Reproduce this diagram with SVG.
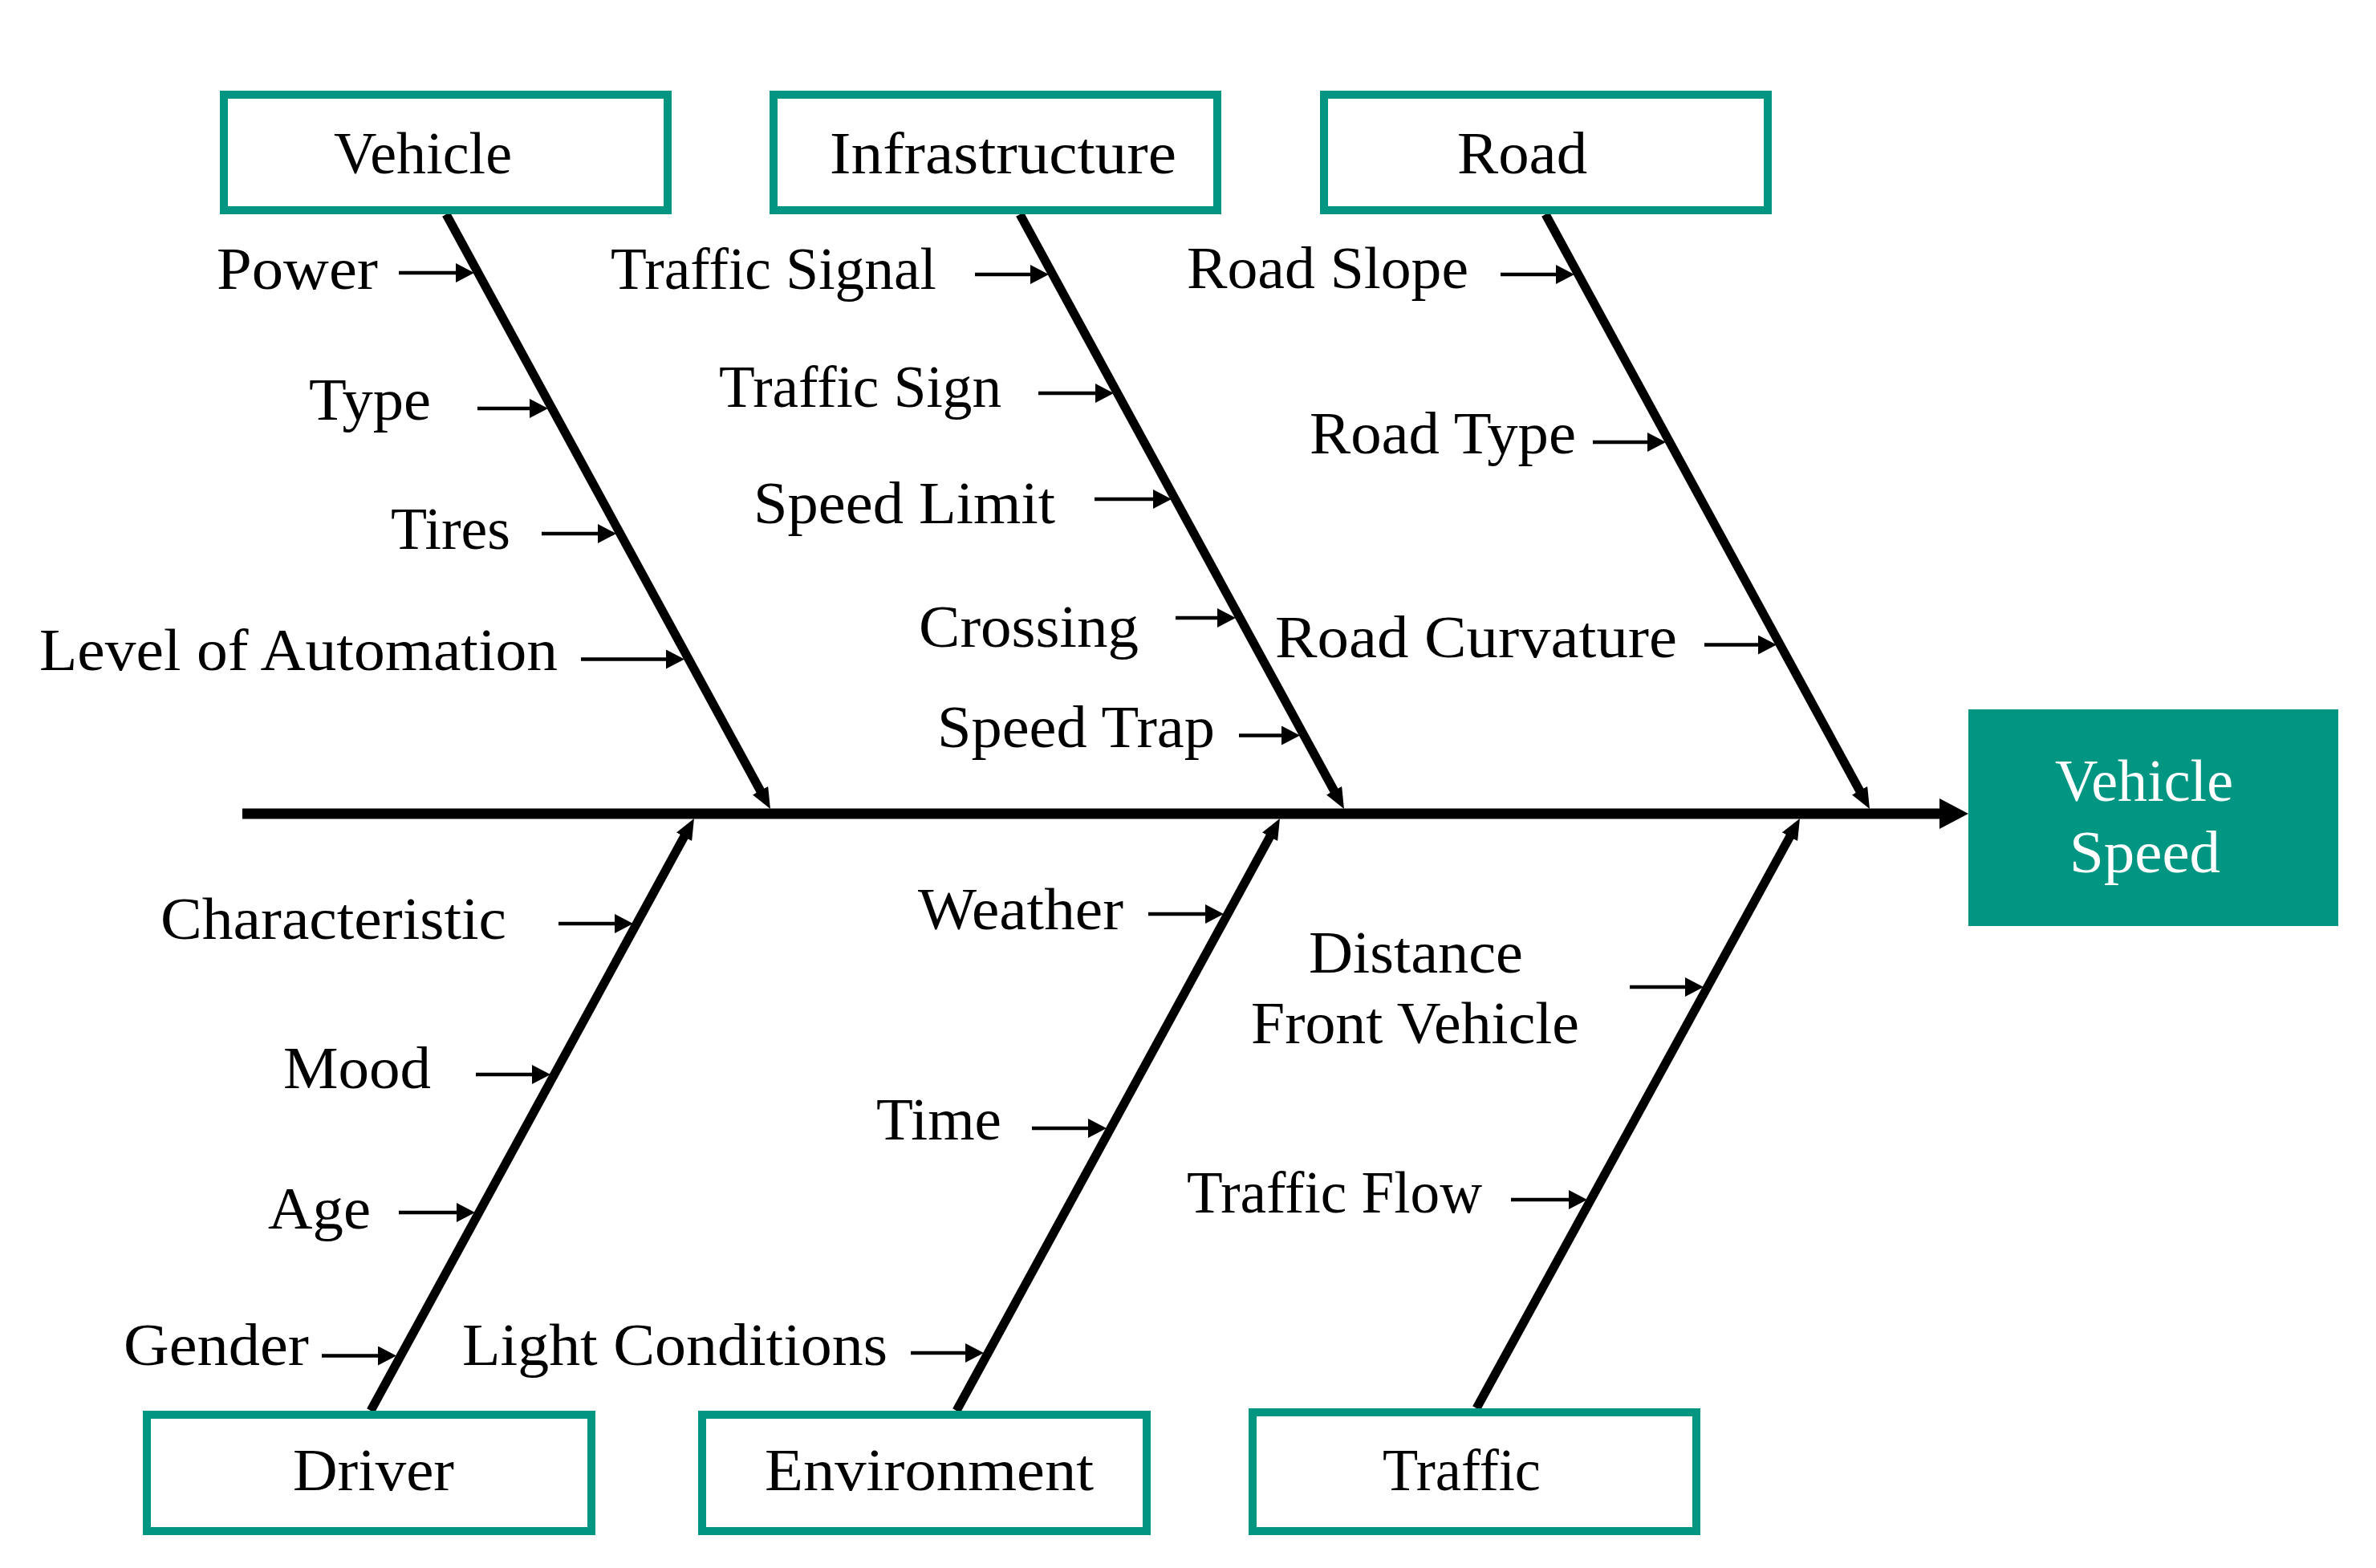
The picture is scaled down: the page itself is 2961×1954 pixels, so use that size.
<svg xmlns="http://www.w3.org/2000/svg" width="2961" height="1954" viewBox="0 0 2961 1954">
<style>
text{font-family:"Liberation Serif","Times New Roman",serif;font-size:74px;fill:#000;}
.cat{fill:#fff;stroke:#009682;stroke-width:10;}
.eff{fill:#009682;}
.efft{fill:#fff;}
.spine{stroke:#000;stroke-width:13;fill:none;}
.bone{stroke:#000;stroke-width:11;fill:none;marker-end:url(#bh);}
.sub{stroke:#000;stroke-width:4.5;fill:none;marker-end:url(#sh);}
</style>
<defs>
<marker id="mh" markerUnits="userSpaceOnUse" viewBox="0 0 36 38" markerWidth="36" markerHeight="38" refX="8" refY="19" orient="auto"><path d="M0,0 L36,19 L0,38 z" fill="#000"/></marker>
<marker id="bh" markerUnits="userSpaceOnUse" viewBox="0 0 26 22" markerWidth="26" markerHeight="22" refX="10" refY="11" orient="auto"><path d="M0,0 L26,11 L0,22 z" fill="#000"/></marker>
<marker id="sh" markerUnits="userSpaceOnUse" viewBox="0 0 23 24" markerWidth="23" markerHeight="24" refX="13" refY="12" orient="auto"><path d="M0,0 L23,12 L0,24 z" fill="#000"/></marker>
</defs>
<rect width="2961" height="1954" fill="#fff"/>
<g id="connectors">
<line class="spine" x1="302" y1="1014" x2="2425" y2="1014" style="marker-end:url(#mh)"/>
<line class="bone" x1="556" y1="267" x2="952.3" y2="994"/>
<line class="bone" x1="1271" y1="267" x2="1667.3" y2="994"/>
<line class="bone" x1="1926" y1="267" x2="2322.3" y2="994"/>
<line class="bone" x1="462" y1="1758" x2="857.3" y2="1034"/>
<line class="bone" x1="1192" y1="1758" x2="1587.3" y2="1034"/>
<line class="bone" x1="1840" y1="1755" x2="2235.3" y2="1034"/>
<line class="sub" x1="497" y1="340" x2="581" y2="340"/>
<line class="sub" x1="595" y1="509" x2="673" y2="509"/>
<line class="sub" x1="675" y1="665" x2="758" y2="665"/>
<line class="sub" x1="724" y1="821.5" x2="843" y2="821.5"/>
<line class="sub" x1="1215" y1="342" x2="1297" y2="342"/>
<line class="sub" x1="1294" y1="490" x2="1378" y2="490"/>
<line class="sub" x1="1364" y1="622" x2="1450" y2="622"/>
<line class="sub" x1="1465" y1="770" x2="1530" y2="770"/>
<line class="sub" x1="1544" y1="916.5" x2="1610" y2="916.5"/>
<line class="sub" x1="1870" y1="342" x2="1952" y2="342"/>
<line class="sub" x1="1985" y1="551" x2="2066" y2="551"/>
<line class="sub" x1="2124" y1="803.6" x2="2204" y2="803.6"/>
<line class="sub" x1="696" y1="1151" x2="779" y2="1151"/>
<line class="sub" x1="593" y1="1339" x2="676" y2="1339"/>
<line class="sub" x1="497" y1="1511" x2="582" y2="1511"/>
<line class="sub" x1="401" y1="1689.5" x2="484" y2="1689.5"/>
<line class="sub" x1="1431" y1="1139" x2="1515" y2="1139"/>
<line class="sub" x1="1286" y1="1406" x2="1369" y2="1406"/>
<line class="sub" x1="1135" y1="1686" x2="1216" y2="1686"/>
<line class="sub" x1="2031" y1="1230" x2="2113" y2="1230"/>
<line class="sub" x1="1883" y1="1495" x2="1968" y2="1495"/>
</g>
<g id="vehicle-speed"><rect class="eff" x="2453" y="884" width="461" height="270"/>
<text class="efft" x="2561" y="998" textLength="222" lengthAdjust="spacingAndGlyphs">Vehicle</text>
<text class="efft" x="2579" y="1087" textLength="188" lengthAdjust="spacingAndGlyphs">Speed</text></g>
<g id="vehicle"><rect class="cat" x="279" y="118" width="553" height="144"/><text x="416" y="216" textLength="222" lengthAdjust="spacingAndGlyphs">Vehicle</text></g>
<g id="infrastructure"><rect class="cat" x="964" y="118" width="553" height="144"/><text x="1034" y="216" textLength="432" lengthAdjust="spacingAndGlyphs">Infrastructure</text></g>
<g id="road"><rect class="cat" x="1650" y="118" width="553" height="144"/><text x="1816" y="216" textLength="162" lengthAdjust="spacingAndGlyphs">Road</text></g>
<g id="driver"><rect class="cat" x="183" y="1763" width="554" height="145"/><text x="365" y="1857" textLength="201" lengthAdjust="spacingAndGlyphs">Driver</text></g>
<g id="environment"><rect class="cat" x="875" y="1763" width="554" height="145"/><text x="953" y="1857" textLength="410" lengthAdjust="spacingAndGlyphs">Environment</text></g>
<g id="traffic"><rect class="cat" x="1561" y="1760" width="553" height="148"/><text x="1723" y="1857" textLength="197" lengthAdjust="spacingAndGlyphs">Traffic</text></g>
<g id="power"><text x="270" y="360" textLength="201" lengthAdjust="spacingAndGlyphs">Power</text></g>
<g id="type"><text x="385" y="523" textLength="152" lengthAdjust="spacingAndGlyphs">Type</text></g>
<g id="tires"><text x="487" y="684" textLength="149" lengthAdjust="spacingAndGlyphs">Tires</text></g>
<g id="level-of-automation"><text x="49" y="835" textLength="646" lengthAdjust="spacingAndGlyphs">Level of Automation</text></g>
<g id="traffic-signal"><text x="761" y="360" textLength="406" lengthAdjust="spacingAndGlyphs">Traffic Signal</text></g>
<g id="traffic-sign"><text x="896" y="507" textLength="352" lengthAdjust="spacingAndGlyphs">Traffic Sign</text></g>
<g id="speed-limit"><text x="939" y="652" textLength="376" lengthAdjust="spacingAndGlyphs">Speed Limit</text></g>
<g id="crossing"><text x="1145" y="806" textLength="274" lengthAdjust="spacingAndGlyphs">Crossing</text></g>
<g id="speed-trap"><text x="1168" y="931" textLength="346" lengthAdjust="spacingAndGlyphs">Speed Trap</text></g>
<g id="road-slope"><text x="1479" y="359" textLength="351" lengthAdjust="spacingAndGlyphs">Road Slope</text></g>
<g id="road-type"><text x="1632" y="565" textLength="332" lengthAdjust="spacingAndGlyphs">Road Type</text></g>
<g id="road-curvature"><text x="1589" y="819" textLength="501" lengthAdjust="spacingAndGlyphs">Road Curvature</text></g>
<g id="characteristic"><text x="200" y="1170" textLength="431" lengthAdjust="spacingAndGlyphs">Characteristic</text></g>
<g id="mood"><text x="353" y="1356" textLength="184" lengthAdjust="spacingAndGlyphs">Mood</text></g>
<g id="age"><text x="334" y="1531" textLength="128" lengthAdjust="spacingAndGlyphs">Age</text></g>
<g id="gender"><text x="154" y="1701" textLength="231" lengthAdjust="spacingAndGlyphs">Gender</text></g>
<g id="weather"><text x="1144" y="1158" textLength="256" lengthAdjust="spacingAndGlyphs">Weather</text></g>
<g id="time"><text x="1092" y="1420" textLength="156" lengthAdjust="spacingAndGlyphs">Time</text></g>
<g id="light-conditions"><text x="576" y="1701" textLength="530" lengthAdjust="spacingAndGlyphs">Light Conditions</text></g>
<g id="distance-front-vehicle"><text x="1631" y="1212" textLength="267" lengthAdjust="spacingAndGlyphs">Distance</text><text x="1559" y="1300" textLength="409" lengthAdjust="spacingAndGlyphs">Front Vehicle</text></g>
<g id="traffic-flow"><text x="1479" y="1511" textLength="368" lengthAdjust="spacingAndGlyphs">Traffic Flow</text></g>
</svg>
